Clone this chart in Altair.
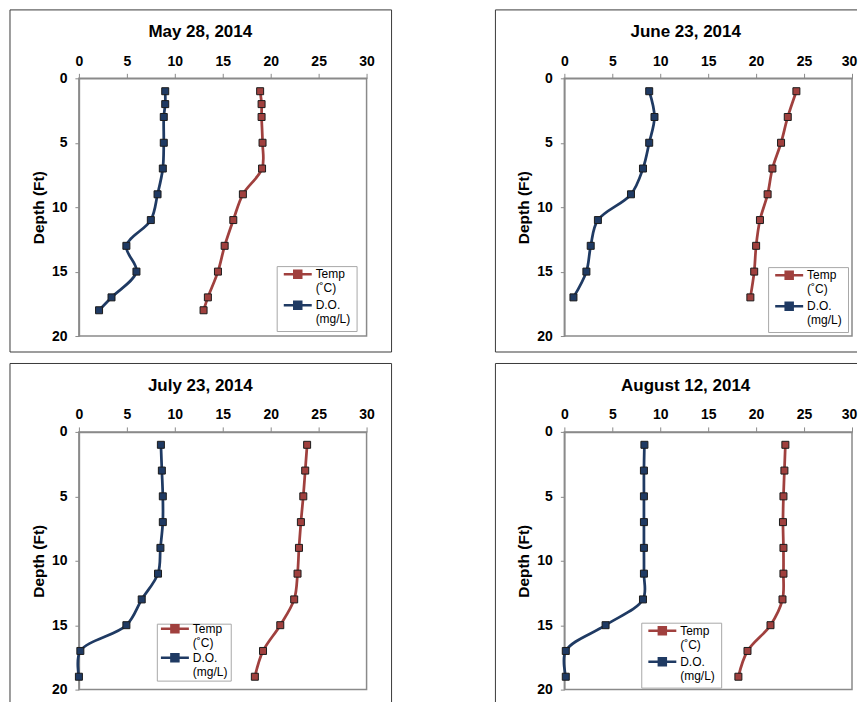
import altair as alt
import pandas as pd

# ---- data ----
series_names = ["Temp (˚C)", "D.O. (mg/L)"]
temp_color = "#A0403E"
do_color = "#1F3A63"

titles = ["May 28, 2014", "June 23, 2014", "July 23, 2014", "August 12, 2014"]

depth_may = [1, 2, 3, 5, 7, 9, 11, 13, 15, 17, 18]
temp_may = [18.9, 19.05, 19.05, 19.15, 19.1, 17.1, 16.1, 15.2, 14.5, 13.45, 13.0]
do_may = [9.0, 9.0, 8.85, 8.85, 8.75, 8.2, 7.5, 4.95, 6.0, 3.4, 2.1]

depth_jun = [1, 3, 5, 7, 9, 11, 13, 15, 17]
temp_jun = [24.2, 23.3, 22.6, 21.7, 21.2, 20.4, 20.0, 19.8, 19.4]
do_jun = [8.85, 9.4, 8.85, 8.2, 6.95, 3.5, 2.75, 2.3, 0.95]

depth_jul = [1, 3, 5, 7, 9, 11, 13, 15, 17, 19]
temp_jul = [23.8, 23.6, 23.4, 23.15, 22.95, 22.8, 22.45, 21.0, 19.2, 18.35]
do_jul = [8.55, 8.65, 8.75, 8.75, 8.5, 8.25, 6.55, 4.95, 0.15, 0.0]

depth_aug = [1, 3, 5, 7, 9, 11, 13, 15, 17, 19]
temp_aug = [23.05, 22.95, 22.85, 22.8, 22.85, 22.85, 22.75, 21.5, 19.1, 18.15]
do_aug = [8.35, 8.3, 8.3, 8.3, 8.3, 8.3, 8.2, 4.3, 0.15, 0.15]

x_ticks = [0, 5, 10, 15, 20, 25, 30]
y_ticks = [0, 5, 10, 15, 20]

FONT = "Liberation Sans"
W, H = 288, 258
BOX_COLOR = "#3a3a3a"

# legend symbol: a line with a square marker on it
SYMBOL = "M-1.4,-1.1H6.6M1.6,-2.1H3.6V-0.1H1.6Z"


def make_df(depth, temp, do):
    rows = []
    for d, t in zip(depth, temp):
        rows.append({"depth": d, "value": t, "series": series_names[0]})
    for d, v in zip(depth, do):
        rows.append({"depth": d, "value": v, "series": series_names[1]})
    return pd.DataFrame(rows)


def legend(lx, ly, row_pad, pad):
    return alt.Legend(
        orient="none", legendX=lx, legendY=ly, title=None,
        symbolType=SYMBOL, symbolSize=49, symbolStrokeWidth=2.5,
        labelOffset=21, padding=pad, rowPadding=row_pad,
        strokeColor="#a8a8a8", fillColor="white",
        labelExpr="split(datum.label, ' ')", labelBaseline="alphabetic",
        labelFont=FONT, labelFontSize=12, labelColor="black",
    )


def frame_layers(open_right):
    one = alt.Data(values=[{"k": 1}])
    if not open_right:
        return [alt.Chart(one).mark_rect(
            filled=False, stroke=BOX_COLOR, strokeWidth=1
        ).encode(x=alt.value(-69), x2=alt.value(313),
                 y=alt.value(-68.5), y2=alt.value(274))]
    rule = alt.Chart(one).mark_rule(stroke=BOX_COLOR, strokeWidth=1)
    return [
        rule.encode(x=alt.value(-69), x2=alt.value(293), y=alt.value(-68.5)),
        rule.encode(x=alt.value(-69), x2=alt.value(293), y=alt.value(274)),
        rule.encode(x=alt.value(-69), y=alt.value(-68.5), y2=alt.value(274)),
    ]


def panel(title, depth, temp, do, lx, ly, row_pad, pad, open_right):
    df = make_df(depth, temp, do)
    base = alt.Chart(df)
    if open_right:
        x_label_offset = {"condition": {"test": "datum.value == 30", "value": -3}, "value": 0}
    else:
        x_label_offset = 0
    xenc = alt.X("value:Q", scale=alt.Scale(domain=[0, 30], nice=False),
                 axis=alt.Axis(orient="top", values=x_ticks, title=None,
                               tickSize=5, labelPadding=5, labelFlush=False,
                               labelOffset=x_label_offset))
    yenc = alt.Y("depth:Q", scale=alt.Scale(domain=[0, 20], reverse=True, nice=False),
                 axis=alt.Axis(values=y_ticks, title="Depth (Ft)", tickSize=4,
                               labelPadding=8, titlePadding=5, labelFlush=False))
    scale = alt.Scale(domain=series_names, range=[temp_color, do_color])
    leg = legend(lx, ly, row_pad, pad)

    one = alt.Data(values=[{"k": 1}])
    ttl = alt.Chart(one).mark_text(
        text=title, font=FONT, fontSize=17, fontWeight="bold", color="black",
        align="center", baseline="alphabetic",
    ).encode(x=alt.value(121.5), y=alt.value(-41))

    line = base.mark_line(interpolate="catmull-rom", strokeWidth=2.75).encode(
        x=xenc, y=yenc, order=alt.Order("depth:Q"),
        stroke=alt.Stroke("series:N", scale=scale, legend=leg),
        detail="series:N",
    )
    pts = base.mark_square(size=49, filled=True, opacity=1).encode(
        x="value:Q", y="depth:Q",
        fill=alt.Fill("series:N", scale=scale, legend=leg),
    )
    outline = base.mark_square(size=49, filled=False, opacity=1,
                               stroke="#1b1b1b", strokeWidth=1).encode(
        x="value:Q", y="depth:Q",
    )
    layers = frame_layers(open_right) + [ttl, line, pts, outline]
    return alt.layer(*layers).properties(width=W, height=H)


p1 = panel(titles[0], depth_may, temp_may, do_may, 198, 188, 2, 6, False)
p2 = panel(titles[1], depth_jun, temp_jun, do_jun, 204, 189, 2, 6, True)
p3 = panel(titles[2], depth_jul, temp_jul, do_jul, 78, 192, 0, 3, False)
p4 = panel(titles[3], depth_aug, temp_aug, do_aug, 77, 191, 2, 6, True)

chart = alt.concat(
    p1, p2, p3, p4, columns=2, bounds="flush",
    spacing={"row": 96, "column": 198},
).resolve_scale(
    stroke="independent", fill="independent", x="independent", y="independent"
).properties(
    padding={"left": 0, "top": 0, "right": 0, "bottom": 0},
    background="white",
).configure_view(
    stroke="#8a8a8a", strokeWidth=1.5,
).configure_axis(
    labelFont=FONT, labelFontSize=14, labelFontWeight="bold", labelColor="black",
    titleFont=FONT, titleFontSize=15.5, titleFontWeight="bold", titleColor="black",
    domainColor="#8a8a8a", domainWidth=1.5, tickColor="#8a8a8a", tickWidth=1,
    grid=False,
)

chart.save("out.html", embed_options={"renderer": "svg", "actions": False})
